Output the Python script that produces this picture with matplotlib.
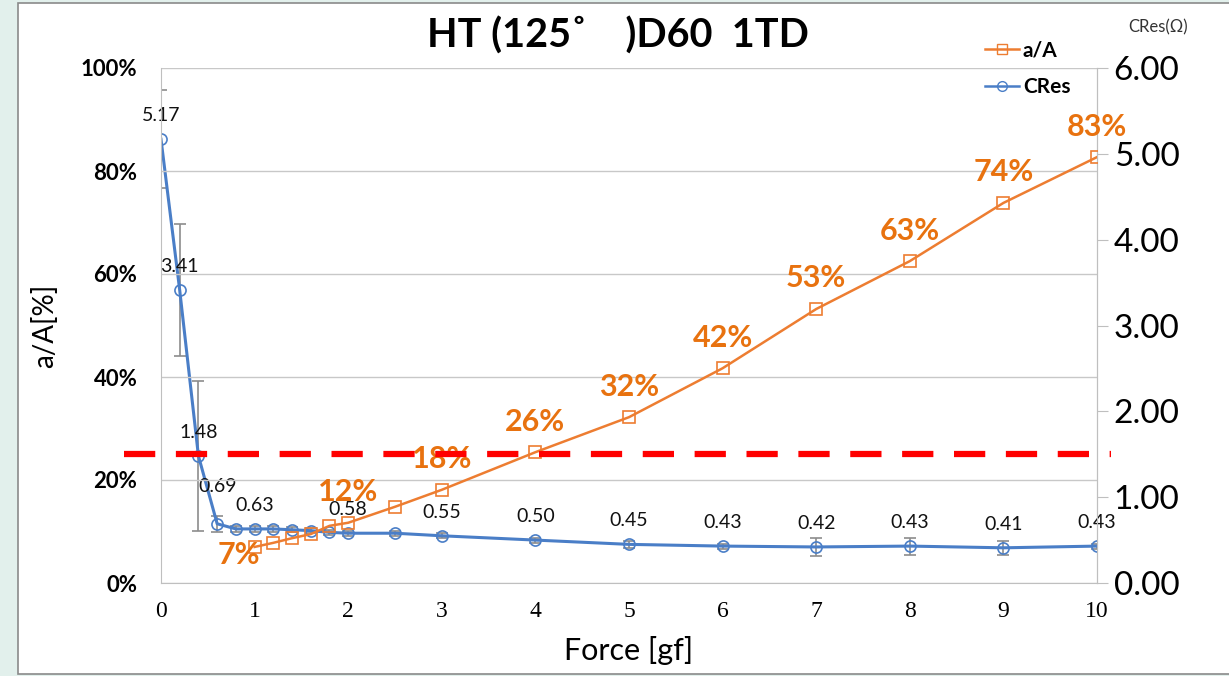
import matplotlib
matplotlib.use("Agg")
import matplotlib.pyplot as plt
from matplotlib.patches import Rectangle
from matplotlib.lines import Line2D

# ---- data ----
force_ratio = [1, 1.2, 1.4, 1.6, 1.8, 2, 2.5, 3, 4, 5, 6, 7, 8, 9, 10]
ratio_pct = [7.0, 7.8, 8.7, 9.5, 11.1, 11.7, 14.8, 18.1, 25.4, 32.2, 41.7, 53.2, 62.5, 73.8, 82.7]
ratio_labels = ["7%", "", "", "", "", "12%", "", "18%", "26%", "32%", "42%", "53%", "63%", "74%", "83%"]

force_cres = [0, 0.2, 0.4, 0.6, 0.8, 1.0, 1.2, 1.4, 1.6, 1.8, 2.0, 2.5, 3, 4, 5, 6, 7, 8, 9, 10]
cres = [5.17, 3.41, 1.48, 0.69, 0.63, 0.63, 0.63, 0.62, 0.61, 0.59, 0.58, 0.58, 0.55,
        0.50, 0.45, 0.43, 0.42, 0.43, 0.41, 0.43]
cres_err = [0.57, 0.77, 0.87, 0.09, 0.03, 0.03, 0.03, 0.03, 0.03, 0.03, 0.03, 0.03, 0.03,
            0.03, 0.04, 0.03, 0.10, 0.10, 0.08, 0.03]
cres_labels = ["5.17", "3.41", "1.48", "0.69", "", "0.63", "", "", "", "", "0.58", "", "0.55",
               "0.50", "0.45", "0.43", "0.42", "0.43", "0.41", "0.43"]

threshold_pct = 25
x_ticks = list(range(0, 11))
left_ticks = [0, 20, 40, 60, 80, 100]
right_ticks = [0, 1, 2, 3, 4, 5, 6]

ORANGE = "#ED7D31"
ORANGE_TXT = "#E8720F"
BLUE = "#4A7EC7"
SANS = "Lato"

fig = plt.figure(figsize=(12.29, 6.76), dpi=100)
fig.patch.set_facecolor("#e2f0ec")
fig.patches.append(Rectangle((18 / 1229, 2 / 676), 1.0, 671 / 676, transform=fig.transFigure,
                             facecolor="white", edgecolor="#8a8a8a", linewidth=1.2, zorder=-5))

ax = fig.add_axes([161 / 1229, 1 - 583 / 676, (1097 - 161) / 1229, (583 - 68) / 676])
ax.set_facecolor("none")
ax2 = ax.twinx()

# a/A series on left axis
ax.plot(force_ratio, ratio_pct, color=ORANGE, lw=1.8, marker="s", markersize=8,
        markerfacecolor="none", markeredgecolor=ORANGE, markeredgewidth=1.2, zorder=3)
for x, y, lab in zip(force_ratio, ratio_pct, ratio_labels):
    if not lab:
        continue
    off = (-11, -6) if lab == "7%" else (0, 22)
    ax.annotate(lab, (x, y), xytext=off, textcoords="offset points", ha="center",
                va="center", fontsize=22, fontweight="bold", color=ORANGE_TXT,
                family=SANS, zorder=4)

ax.set_xlim(0, 10)
ax.set_ylim(0, 100)
ax.set_xticks(x_ticks)
ax.set_xticklabels([str(t) for t in x_ticks], family="Liberation Serif", fontsize=17)
ax.set_yticks(left_ticks)
ax.set_yticklabels([f"{t}%" for t in left_ticks], fontsize=16, fontweight="bold", family=SANS)
ax.tick_params(axis="y", length=0, pad=17)
ax.tick_params(axis="x", length=0, pad=13)
ax.grid(axis="y", color="#c8c8c8", lw=1)
ax.set_axisbelow(True)
ax.spines["top"].set_visible(False)
for s in ["left", "bottom", "right"]:
    ax.spines[s].set_color("#bfbfbf")
ax.set_ylabel("a/A[%]", fontsize=20, family=SANS, labelpad=16)
ax.set_xlabel("Force [gf]", fontsize=22, family=SANS, labelpad=10)

# CRes series on right axis
ax2.errorbar(force_cres, cres, yerr=cres_err, fmt="none", ecolor="#8c8c8c", elinewidth=1.2,
             capsize=4, capthick=1.2, zorder=2)
ax2.plot(force_cres, cres, color=BLUE, lw=2.2, marker="o", markersize=8,
         markerfacecolor="none", markeredgecolor=BLUE, markeredgewidth=1.2, zorder=3)
for x, y, lab in zip(force_cres, cres, cres_labels):
    if not lab:
        continue
    dy = 27 if lab == "0.69" else 17
    ax2.annotate(lab, (x, y), xytext=(0, dy), textcoords="offset points", ha="center",
                 va="center", fontsize=14, color="#111111", family=SANS, zorder=4)
ax2.set_ylim(0, 6)
ax2.set_yticks(right_ticks)
ax2.set_yticklabels([f"{t:.2f}" for t in right_ticks], fontsize=24, family=SANS)
ax2.tick_params(axis="y", length=8, color="#bfbfbf", pad=4)
for s in ["top", "left", "bottom"]:
    ax2.spines[s].set_visible(False)
ax2.spines["right"].set_color("#bfbfbf")

# threshold line, extends beyond plot area
ax.plot([-0.04, 1.015], [threshold_pct, threshold_pct], transform=ax.get_yaxis_transform(),
        color="#FF0000", lw=4.5, linestyle=(0, (5, 3.3)), clip_on=False, zorder=6)
ax.set_zorder(ax2.get_zorder() + 1)

fig.text(618 / 1229, 1 - 36 / 676, "HT (125\u02da    )D60  1TD", ha="center", va="center",
         fontsize=28.5, fontweight="bold", family=SANS)
fig.text(1158 / 1229, 1 - 27 / 676, "CRes(\u03a9)", ha="center", va="center", fontsize=12,
         family=SANS, color="#333333")

handles = [Line2D([], [], color=ORANGE, lw=1.8, marker="s", markersize=7,
                  markerfacecolor="none", markeredgecolor=ORANGE),
           Line2D([], [], color=BLUE, lw=1.8, marker="o", markersize=7,
                  markerfacecolor="none", markeredgecolor=BLUE)]
fig.legend(handles, ["a/A", "CRes"], loc="upper left", bbox_to_anchor=(975 / 1229, 1 - 30 / 676),
           frameon=False, prop={"family": SANS, "weight": "bold", "size": 15},
           handlelength=1.6, handletextpad=0.2, labelspacing=0.8, borderpad=0)

fig.savefig("out.png", dpi=100)
